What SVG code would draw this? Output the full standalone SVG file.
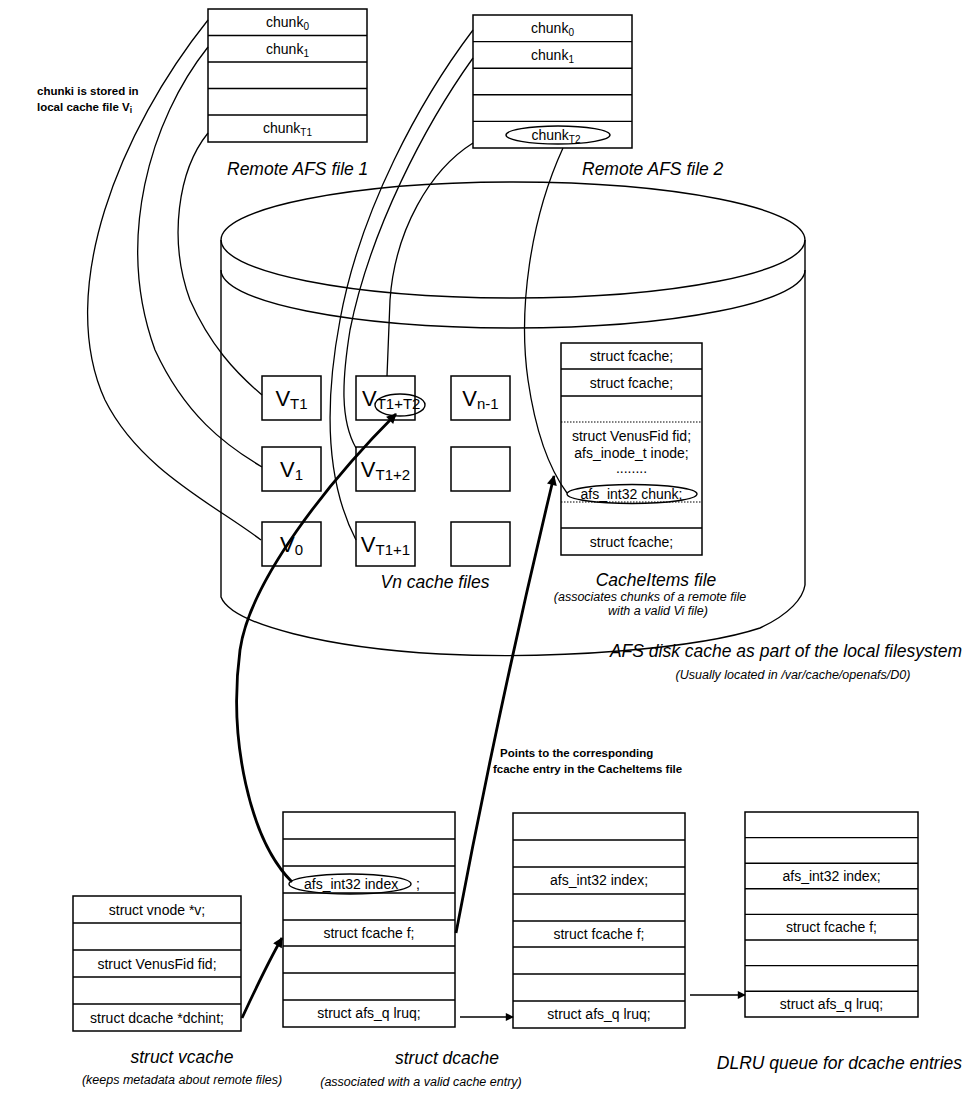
<svg xmlns="http://www.w3.org/2000/svg" width="966" height="1094" viewBox="0 0 966 1094">
<style>
  text { font-family: "Liberation Sans", Arial, Helvetica, sans-serif; fill: #000; }
  .tb { fill: #fff; stroke: #000; stroke-width: 1.5; }
  .ln { stroke: #000; stroke-width: 1.4; fill: none; }
  .dot { stroke: #000; stroke-width: 1.2; stroke-dasharray: 1.5 1.5; fill: none; }
  .cell { font-size: 14px; text-anchor: middle; }
  .sub { font-size: 10px; }
  .vl { font-size: 22px; text-anchor: middle; }
  .vs { font-size: 15px; }
  .big { font-size: 17.5px; font-style: italic; }
  .small { font-size: 12.5px; font-style: italic; text-anchor: middle; }
  .note { font-size: 11.5px; font-weight: bold; }
  .wire { stroke: #000; stroke-width: 1.3; fill: none; }
  .thick { stroke: #000; stroke-width: 2.8; fill: none; }
  .thin { stroke: #000; stroke-width: 1.3; fill: none; }
  .ell { fill: none; stroke: #000; stroke-width: 1.4; }
</style>
<defs>
  <marker id="ahb" viewBox="0 0 10 10" refX="9" refY="5" markerWidth="14" markerHeight="10" markerUnits="userSpaceOnUse" orient="auto">
    <path d="M0,0 L10,5 L0,10 z" fill="#000"/>
  </marker>
  <marker id="ahs" viewBox="0 0 10 10" refX="9" refY="5" markerWidth="10" markerHeight="8" markerUnits="userSpaceOnUse" orient="auto">
    <path d="M0,0 L10,5 L0,10 z" fill="#000"/>
  </marker>
</defs>
<rect width="966" height="1094" fill="#fff"/>

<g id="disk-cache">
  <ellipse cx="513" cy="240" rx="292" ry="58" class="ln"/>
  <path class="ln" d="M 221 270 A 292 58 0 0 0 805 270"/>
  <path class="ln" d="M 221 240 L 221 597 C 232 625, 330 648, 440 654 C 560 660, 700 648, 760 628 C 790 614, 803 598, 805 585 L 805 240"/>
  <text class="big" x="962" y="657" text-anchor="end">AFS disk cache as part of the local filesystem</text>
  <text class="small" x="793" y="679">(Usually located in /var/cache/openafs/D0)</text>
</g>

<g id="remote-file-1">
  <rect class="tb" x="208" y="9" width="159" height="133"/>
  <path class="ln" d="M208 35.5H367M208 62H367M208 88.5H367M208 115H367"/>
  <text class="cell" x="287.5" y="27">chunk<tspan class="sub" dy="3">0</tspan></text>
  <text class="cell" x="287.5" y="54">chunk<tspan class="sub" dy="3">1</tspan></text>
  <text class="cell" x="287.5" y="133">chunk<tspan class="sub" dy="3">T1</tspan></text>
  <text class="big" x="227" y="175">Remote AFS file 1</text>
</g>

<g id="remote-file-2">
  <rect class="tb" x="473" y="15" width="159" height="133"/>
  <path class="ln" d="M473 41.6H632M473 68.2H632M473 94.8H632M473 121.4H632"/>
  <text class="cell" x="552.5" y="33">chunk<tspan class="sub" dy="3">0</tspan></text>
  <text class="cell" x="552.5" y="60">chunk<tspan class="sub" dy="3">1</tspan></text>
  <text class="cell" x="556" y="140">chunk<tspan class="sub" dy="3">T2</tspan></text>
  <ellipse class="ell" cx="558" cy="135" rx="52" ry="9"/>
  <text class="big" x="582" y="175">Remote AFS file 2</text>
</g>

<g id="note-chunki">
  <text class="note" x="37" y="95">chunki is stored in</text>
  <text class="note" x="37" y="111">local cache file V<tspan font-size="8.5" dy="2">i</tspan></text>
</g>

<g id="v-t1"><rect class="tb" x="262" y="376" width="59" height="44"/><text class="vl" x="291.5" y="406">V<tspan class="vs" dy="3">T1</tspan></text></g>
<g id="v-1"><rect class="tb" x="262" y="447" width="59" height="44"/><text class="vl" x="291.5" y="477">V<tspan class="vs" dy="3">1</tspan></text></g>
<g id="v-0"><rect class="tb" x="262" y="522" width="59" height="44"/><text class="vl" x="291.5" y="552">V<tspan class="vs" dy="3">0</tspan></text></g>
<g id="v-t1t2"><rect class="tb" x="356" y="376" width="59" height="44"/><text x="362" y="406" font-size="22">V<tspan class="vs" dy="3">T1+T2</tspan></text><ellipse class="ell" cx="400" cy="405" rx="25" ry="11"/></g>
<g id="v-t1p2"><rect class="tb" x="356" y="447" width="59" height="44"/><text class="vl" x="385.5" y="477">V<tspan class="vs" dy="3">T1+2</tspan></text></g>
<g id="v-t1p1"><rect class="tb" x="356" y="522" width="59" height="44"/><text class="vl" x="385.5" y="552">V<tspan class="vs" dy="3">T1+1</tspan></text></g>
<g id="v-n1"><rect class="tb" x="451" y="376" width="59" height="44"/><text class="vl" x="480.5" y="406">V<tspan class="vs" dy="3">n-1</tspan></text></g>
<g id="v-blank1"><rect class="tb" x="451" y="447" width="59" height="44"/></g>
<g id="v-blank2"><rect class="tb" x="451" y="522" width="59" height="44"/></g>
<g id="vn-label"><text class="big" x="435" y="588" text-anchor="middle">Vn cache files</text></g>

<g id="cacheitems">
  <rect class="tb" x="561" y="343" width="141" height="212"/>
  <path class="ln" d="M561 369H702M561 396H702M561 528H702"/>
  <path class="dot" d="M561 422H702M561 502H702"/>
  <text class="cell" x="631.5" y="361">struct fcache;</text>
  <text class="cell" x="631.5" y="388">struct fcache;</text>
  <text class="cell" x="631.5" y="441">struct VenusFid fid;</text>
  <text class="cell" x="631.5" y="458">afs_inode_t inode;</text>
  <text class="cell" x="631.5" y="473">........</text>
  <text class="cell" x="631.5" y="499">afs_int32 chunk;</text>
  <ellipse class="ell" cx="632" cy="494" rx="65" ry="9.5"/>
  <text class="cell" x="631.5" y="547">struct fcache;</text>
  <text class="big" x="656" y="586" text-anchor="middle">CacheItems file</text>
  <text class="small" x="650" y="601">(associates chunks of a remote file</text>
  <text class="small" x="658" y="615">with a valid Vi file)</text>
</g>

<g id="vcache">
  <rect class="tb" x="73" y="896" width="168" height="135"/>
  <path class="ln" d="M73 923H241M73 950H241M73 977H241M73 1004H241"/>
  <text class="cell" x="157" y="914.5">struct vnode *v;</text>
  <text class="cell" x="157" y="968.5">struct VenusFid fid;</text>
  <text class="cell" x="157" y="1022.5">struct dcache *dchint;</text>
  <text class="big" x="182" y="1063" text-anchor="middle">struct vcache</text>
  <text class="small" x="182" y="1084">(keeps metadata about remote files)</text>
</g>

<g id="dcache">
  <rect class="tb" x="283" y="812" width="172" height="215"/>
  <path class="ln" d="M283 839H455M283 866H455M283 893H455M283 920H455M283 946H455M283 973H455M283 1000H455"/>
  <text x="304" y="889" font-size="14">afs_int32 index</text>
  <text x="416" y="889" font-size="14">;</text>
  <ellipse class="ell" cx="350" cy="884" rx="61" ry="10"/>
  <text class="cell" x="369" y="938">struct fcache f;</text>
  <text class="cell" x="369" y="1018">struct afs_q lruq;</text>
  <text class="big" x="447" y="1064" text-anchor="middle">struct dcache</text>
  <text class="small" x="421" y="1086">(associated with a valid cache entry)</text>
</g>

<g id="dcache-2">
  <rect class="tb" x="513" y="813" width="172" height="215"/>
  <path class="ln" d="M513 840H685M513 867H685M513 894H685M513 921H685M513 947H685M513 974H685M513 1001H685"/>
  <text class="cell" x="599" y="885">afs_int32 index;</text>
  <text class="cell" x="599" y="939">struct fcache f;</text>
  <text class="cell" x="599" y="1019">struct afs_q lruq;</text>
</g>

<g id="dcache-3">
  <rect class="tb" x="745" y="812" width="173" height="205"/>
  <path class="ln" d="M745 837.6H918M745 863.2H918M745 888.8H918M745 914.4H918M745 940H918M745 965.6H918M745 991.2H918"/>
  <text class="cell" x="831.5" y="881">afs_int32 index;</text>
  <text class="cell" x="831.5" y="932">struct fcache f;</text>
  <text class="cell" x="831.5" y="1009">struct afs_q lruq;</text>
  <text class="big" x="962" y="1069" text-anchor="end">DLRU queue for dcache entries</text>
</g>

<g id="note-points">
  <text class="note" x="500" y="757">Points to the corresponding</text>
  <text class="note" x="493" y="773">fcache entry in the CacheItems file</text>
</g>

<g id="connectors">
  <path class="wire" d="M 208 20 C 120 130, 55 290, 105 400 C 140 470, 215 505, 261 540"/>
  <path class="wire" d="M 208 47 C 150 120, 115 240, 155 350 C 185 415, 225 445, 262 467"/>
  <path class="wire" d="M 208 133 C 178 170, 168 240, 190 300 C 210 345, 235 372, 262 395"/>
  <path class="wire" d="M 473 30 C 420 100, 360 210, 340 320 C 325 400, 325 480, 356 540"/>
  <path class="wire" d="M 473 58 C 425 125, 370 230, 350 330 C 342 380, 340 420, 356 448"/>
  <path class="wire" d="M 473 143 C 430 170, 395 230, 390 300 L 387 376"/>
  <path class="wire" d="M 563 148 C 530 220, 518 310, 528 380 C 536 435, 550 470, 567 493"/>
  <path class="thick" marker-end="url(#ahb)" d="M 292 882 C 250 840, 228 740, 240 650 C 250 580, 330 480, 396 414"/>
  <path class="thick" marker-end="url(#ahb)" d="M 242 1018 C 255 990, 268 962, 282 938"/>
  <path class="thick" marker-end="url(#ahb)" d="M 456 933 Q 500 700, 554 476"/>
  <path class="thin" marker-end="url(#ahs)" d="M 460 1017 L 513 1017"/>
  <path class="thin" marker-end="url(#ahs)" d="M 690 995 L 745 995"/>
</g>
</svg>
